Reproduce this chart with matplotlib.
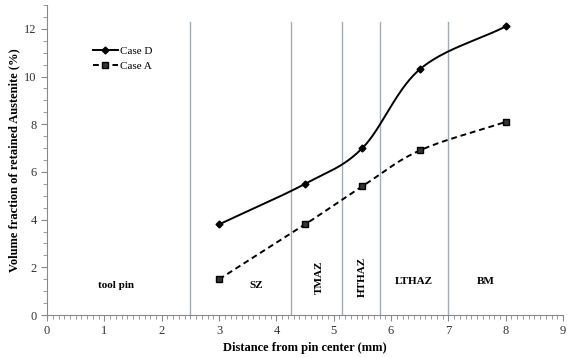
import numpy as np
import matplotlib.pyplot as plt
from matplotlib.ticker import MultipleLocator

plt.rcParams['font.family'] = ['Liberation Serif', 'DejaVu Serif']

# retained austenite measurements
distance = [3.0, 4.5, 5.5, 6.5, 8.0]
case_d = [3.8, 5.5, 7.0, 10.3, 12.1]
case_a = [1.5, 3.8, 5.4, 6.9, 8.1]

# zone boundaries (mm) and zone labels
boundaries = [2.5, 4.25, 5.15, 5.8, 7.0]
zones = ['tool pin', 'SZ', 'TMAZ', 'HTHAZ', 'LTHAZ', 'BM']
zone_x = [1.2, 3.65, 4.75, 5.5, 6.4, 7.65]
zone_y = [1.25, 1.25, 1.6, 1.6, 1.4, 1.4]
zone_rot = [0, 0, 90, 90, 0, 0]


def smooth(x, y, n=40):
    # Catmull-Rom curve through the points, like a spreadsheet "smoothed line"
    x = np.asarray(x, float)
    y = np.asarray(y, float)
    px = np.concatenate([[2 * x[0] - x[1]], x, [2 * x[-1] - x[-2]]])
    py = np.concatenate([[2 * y[0] - y[1]], y, [2 * y[-1] - y[-2]]])
    xs, ys = [], []
    t = np.linspace(0, 1, n)
    for i in range(1, len(px) - 2):
        for p, out in ((px, xs), (py, ys)):
            p0, p1, p2, p3 = p[i - 1], p[i], p[i + 1], p[i + 2]
            out.extend(0.5 * ((2 * p1) + (-p0 + p2) * t
                              + (2 * p0 - 5 * p1 + 4 * p2 - p3) * t ** 2
                              + (-p0 + 3 * p1 - 3 * p2 + p3) * t ** 3))
    return xs, ys


fig = plt.figure(figsize=(5.67, 3.58), dpi=100)
ax = fig.add_axes([0.083, 0.12, 0.910, 0.866])

for b in boundaries:
    ax.plot([b, b], [0, 12.3], color='#a3abb3', lw=1.0, zorder=1)

xs, ys = smooth(distance, case_d)
ax.plot(xs, ys, color='black', lw=1.4, zorder=3)
ax.plot(distance, case_d, 'D', color='black', ms=3.5, zorder=4)
xs, ys = smooth(distance, case_a)
ax.plot(xs, ys, color='black', lw=1.4, ls=(0, (3, 2)), zorder=3)
ax.plot(distance, case_a, 's', color='#333333', mec='black', ms=5, zorder=4)

# legend handles
ax.plot([], [], '-D', color='black', lw=1.4, ms=3.5, label='Case D')
ax.plot([], [], 's', ls=(0, (3, 2)), color='black', mfc='#333333',
        lw=1.4, ms=5, label='Case A')
ax.legend(loc='upper left', bbox_to_anchor=(0.07, 0.90), frameon=False,
          fontsize=8, handlelength=2.2, handletextpad=0.2, labelspacing=0.5)

for name, zx, zy, r in zip(zones, zone_x, zone_y, zone_rot):
    ax.text(zx, zy, name, ha='center', va='center', rotation=r,
            fontsize=8, fontweight='bold')

ax.set_xlim(0, 9)
ax.set_ylim(0, 13)
ax.set_yticks(range(0, 13, 2))
ax.xaxis.set_minor_locator(MultipleLocator(0.1))
ax.yaxis.set_minor_locator(MultipleLocator(0.5))
ax.tick_params(which='both', color='#888888', labelsize=9, labelcolor='#333333')
ax.tick_params(which='major', length=4)
ax.tick_params(which='minor', length=3)
for s in ['top', 'right']:
    ax.spines[s].set_visible(False)
for s in ['left', 'bottom']:
    ax.spines[s].set_color('#888888')

ax.set_xlabel('Distance from pin center (mm)', fontsize=9, fontweight='bold',
              labelpad=3)
ax.set_ylabel('Volume fraction of retained Austenite (%)', fontsize=9,
              fontweight='bold')
ax.yaxis.set_label_coords(-0.052, 0.5)

fig.savefig('out.png', dpi=100)
